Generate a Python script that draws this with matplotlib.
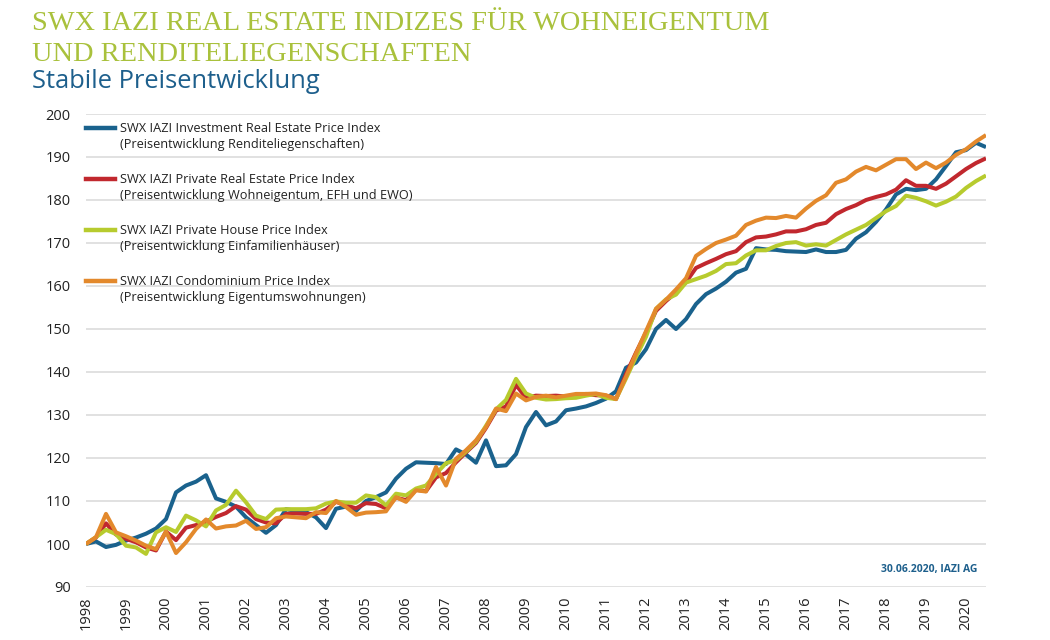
import matplotlib
matplotlib.use("Agg")
from matplotlib import pyplot as plt
from matplotlib.lines import Line2D
import numpy as np

plt.rcParams["font.family"] = ["Open Sans", "DejaVu Sans"]

# quarterly index values, Q1 1998 = 100
start_year = 1998
year_ticks = list(range(1998, 2021))

investment = [
    100, 100.6, 99.3, 99.8, 100.8, 101.5, 102.4, 103.6,
    105.8, 112, 113.6, 114.5, 116, 110.6, 109.8, 108.7,
    106.2, 104.4, 102.6, 104.4, 108.1, 107.7, 107.4, 106.2,
    103.7, 108.2, 108.7, 107.7, 110, 110.9, 112, 115.2,
    117.5, 119, 118.9, 118.8, 118.6, 122, 120.8, 118.9,
    124.1, 118.1, 118.3, 120.9, 127.2, 130.7, 127.6, 128.5,
    131.1, 131.5, 132, 132.8, 133.8, 135.5, 141, 142.2,
    145.3, 150, 152.1, 150, 152.3, 155.8, 158.1, 159.4,
    161, 163.1, 164, 168.8, 168.5, 168.4, 168.1, 168,
    167.9, 168.5, 167.9, 167.9, 168.4, 171, 172.5, 174.9,
    177.8, 181.3, 182.6, 182.3, 182.6, 184.8, 187.9, 191.1,
    191.6, 193.3, 192.3]

private_re = [
    100, 101.5, 104.8, 102.2, 101.2, 100.4, 99.2, 98.5,
    102.9, 100.9, 103.8, 104.4, 105.2, 106.3, 107.2, 108.8,
    108, 105.8, 105, 104.8, 107, 107.1, 107, 107,
    108, 109.8, 109, 108.3, 109.5, 109.3, 108.3, 110.8,
    110.2, 112.6, 112.3, 115.5, 116.5, 119, 121.3, 123.5,
    127, 131, 132, 137, 134, 134.5, 134.4, 134.5,
    134.3, 134.6, 134.9, 134.6, 134.5, 133.7, 139.5, 144.5,
    149.2, 154.2, 156.5, 158.5, 160.9, 164.2, 165.3, 166.3,
    167.4, 168.1, 170.2, 171.3, 171.5, 172, 172.7, 172.7,
    173.2, 174.2, 174.7, 176.7, 177.9, 178.8, 180, 180.7,
    181.3, 182.4, 184.6, 183.3, 183.3, 182.6, 183.8, 185.5,
    187.2, 188.6, 189.7]

house = [
    100, 101.6, 103.3, 102.3, 99.6, 99.2, 97.7, 102.7,
    103.9, 102.8, 106.6, 105.5, 104.1, 107.8, 109.1, 112.4,
    109.7, 106.6, 105.8, 108, 108.1, 108.1, 108.1, 108.3,
    109.4, 109.9, 109.6, 109.6, 111.3, 110.9, 109, 111.7,
    111.3, 112.9, 113.6, 116.3, 118.8, 119.5, 121.5, 123.8,
    127.5, 131.3, 133.5, 138.4, 135, 134, 133.6, 133.7,
    133.9, 134, 134.5, 134.9, 134, 133.7, 138.5, 143.5,
    148.2, 154.7, 156.9, 158, 160.8, 161.6, 162.4, 163.5,
    165.1, 165.3, 167.1, 168.3, 168.3, 169.3, 170, 170.2,
    169.4, 169.7, 169.4, 170.7, 172, 173.1, 174.2, 175.8,
    177.4, 178.6, 181, 180.5, 179.7, 178.7, 179.6, 180.8,
    182.8, 184.4, 185.7]

condo = [
    100, 101.6, 107, 102.7, 101.8, 100.8, 99.6, 98.8,
    102.9, 97.9, 100.4, 103.5, 105.7, 103.6, 104.1, 104.3,
    105.4, 103.5, 103.9, 106, 106.4, 106.2, 106, 107.4,
    107.2, 110, 108.6, 106.8, 107.3, 107.4, 107.6, 110.9,
    109.8, 112.5, 112.2, 117.9, 113.6, 119.8, 121.8, 124.1,
    127.2, 131.5, 130.9, 135, 133.4, 134.2, 134.5, 134.1,
    134.5, 134.9, 134.9, 135, 134.6, 133.7, 138.9, 144.3,
    149.5, 154.7, 156.8, 159.2, 161.8, 167, 168.6, 170,
    170.8, 171.7, 174.2, 175.2, 175.9, 175.8, 176.3, 175.9,
    178, 179.8, 181.1, 184, 184.8, 186.6, 187.7, 186.9,
    188.2, 189.5, 189.5, 187.2, 188.7, 187.4, 188.7, 190.5,
    191.8, 193.6, 195.1]

series_names = [
    "SWX IAZI Investment Real Estate Price Index",
    "SWX IAZI Private Real Estate Price Index",
    "SWX IAZI Private House Price Index",
    "SWX IAZI Condominium Price Index",
]
series_notes = [
    "(Preisentwicklung Renditeliegenschaften)",
    "(Preisentwicklung Wohneigentum, EFH und EWO)",
    "(Preisentwicklung Einfamilienhäuser)",
    "(Preisentwicklung Eigentumswohnungen)",
]
series_colors = ["#1a628d", "#c1282e", "#b7cb2e", "#e3892c"]

title_green = "#a9c13c"
sub_blue = "#1d5f8c"

W, H = 1050, 640
fig = plt.figure(figsize=(W / 100, H / 100), dpi=100)
fig.patch.set_facecolor("white")
ax = fig.add_axes([86 / W, 53 / H, 900 / W, 473 / H])

quarters = start_year + np.arange(len(investment)) / 4

for values, color in zip([investment, private_re, house, condo], series_colors):
    ax.plot(quarters, values, color=color, lw=2.9, solid_capstyle="butt")

ax.set_xlim(quarters[0], quarters[-1])
ax.set_ylim(90, 200)
ax.set_yticks(range(90, 201, 10))
ax.set_xticks(year_ticks)
ax.set_xticklabels([str(y) for y in year_ticks], rotation=90)
ax.grid(axis="y", color="#dedede", lw=1.3)
ax.grid(axis="x", visible=False)
ax.set_axisbelow(True)
for s in ax.spines.values():
    s.set_visible(False)
ax.tick_params(axis="y", length=0, pad=11, labelsize=10.5, labelcolor="#222222")
ax.tick_params(axis="x", length=0, pad=7, labelsize=10.5, labelcolor="#222222")

ax.text(0.99, 0.038, "30.06.2020, IAZI AG", transform=ax.transAxes,
        ha="right", va="center", fontsize=7.5, fontweight="bold", color=sub_blue)

# legend, drawn by hand so the swatch sits on the first text line
for k in range(4):
    y_mid = 127.7 + k * 51.0
    fig.add_artist(Line2D([86 / W, 115 / W], [1 - y_mid / H, 1 - y_mid / H],
                          transform=fig.transFigure, color=series_colors[k], lw=3.2))
    fig.text(120 / W, 1 - (y_mid + 4.5) / H, series_names[k], fontsize=9.2,
             color="#222222", va="baseline")
    fig.text(120 / W, 1 - (y_mid + 20.2) / H, series_notes[k], fontsize=9.2,
             color="#222222", va="baseline")

fig.text(32 / W, 1 - 30 / H, "SWX IAZI REAL ESTATE INDIZES FÜR WOHNEIGENTUM",
         family=["Liberation Serif", "DejaVu Serif"], fontsize=20.4,
         color=title_green, va="baseline")
fig.text(32 / W, 1 - 61 / H, "UND RENDITELIEGENSCHAFTEN",
         family=["Liberation Serif", "DejaVu Serif"], fontsize=20.4,
         color=title_green, va="baseline")
fig.text(32 / W, 1 - 88 / H, "Stabile Preisentwicklung", fontsize=18.4,
         color=sub_blue, va="baseline")

fig.savefig("out.png", dpi=100, facecolor="white")
